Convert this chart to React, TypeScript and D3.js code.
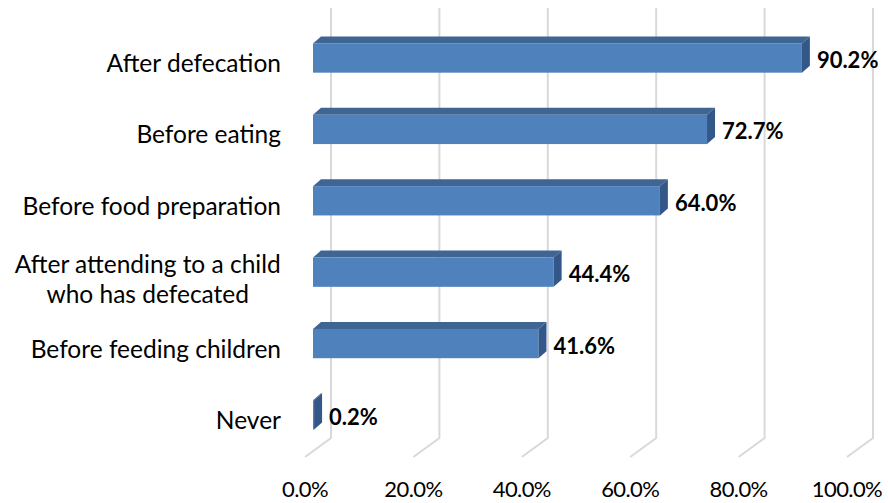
import React from "react";
import * as d3 from "d3";

const categories = [
  "After defecation",
  "Before eating",
  "Before food preparation",
  "After attending to a child\nwho has defecated",
  "Before feeding children",
  "Never",
];
const values = [90.2, 72.7, 64.0, 44.4, 41.6, 0.2];
const ticks = [0, 20, 40, 60, 80, 100];

const W = 888;
const H = 503;
const FONT = "Lato, 'Open Sans', sans-serif";
const CAT_SIZE = 24.5;

function measure(text: string, font: string): number {
  if (typeof document === "undefined") return text.length * 11;
  const c = document.createElement("canvas");
  const ctx = c.getContext("2d");
  if (!ctx) return text.length * 11;
  ctx.font = font;
  return ctx.measureText(text).width;
}

export default function App() {
  const x = d3.scaleLinear().domain([0, 100]).range([313, 855]);
  const y = d3
    .scaleBand<number>()
    .domain(d3.range(categories.length))
    .range([22, 451])
    .paddingInner(0.59)
    .paddingOuter(0.3);
  const wallDx = 18;
  const floorFront = { dx: -8, y: 457 };
  const wallTop = 8;
  const wallBottom = 438;
  const depth = { dx: 8, dy: -7 };
  const labelRight = 281;

  return (
    <svg width={W} height={H} style={{ position: "absolute", left: 0, top: 0 }}>
      <rect width={W} height={H} fill="#fff" />
      {ticks.map((t) => {
        const bx = x(t) + wallDx;
        const fx = x(t) + floorFront.dx;
        return (
          <g key={t}>
            <polyline
              points={`${bx},${wallTop} ${bx},${wallBottom} ${fx},${floorFront.y}`}
              fill="none"
              stroke="#d9d9d9"
              strokeWidth={2}
            />
            <text
              x={fx}
              y={497}
              textAnchor="middle"
              fontFamily={FONT}
              fontSize={22}
              letterSpacing={-0.6}
              fill="#000"
            >
              {t.toFixed(1)}%
            </text>
          </g>
        );
      })}
      {values.map((v, i) => {
        const y0 = y(i)!;
        const h = y.bandwidth();
        const x0 = x(0);
        const x1 = x(v);
        const top = `${x0},${y0} ${x0 + depth.dx},${y0 + depth.dy} ${x1 + depth.dx},${y0 + depth.dy} ${x1},${y0}`;
        const side = `${x1},${y0} ${x1 + depth.dx},${y0 + depth.dy} ${x1 + depth.dx},${y0 + h + depth.dy} ${x1},${y0 + h}`;
        const lines = categories[i].split("\n");
        const cy = y0 + h / 2;
        let labelEl;
        if (lines.length === 1) {
          labelEl = (
            <text x={labelRight} y={cy + 14} textAnchor="end" fontFamily={FONT} fontSize={CAT_SIZE} fill="#000">
              {lines[0]}
            </text>
          );
        } else {
          const maxW = Math.max(...lines.map((l) => measure(l, `${CAT_SIZE}px Lato`)));
          const cx = labelRight - maxW / 2;
          labelEl = (
            <text textAnchor="middle" fontFamily={FONT} fontSize={CAT_SIZE} fill="#000">
              {lines.map((l, k) => (
                <tspan key={k} x={cx} y={cy + 1 + k * 30}>
                  {l}
                </tspan>
              ))}
            </text>
          );
        }
        return (
          <g key={i}>
            <polygon points={top} fill="#3f6593" />
            <rect x={x0} y={y0} width={x1 - x0} height={h} fill="#4f81bd" />
            <polygon points={side} fill="#34578a" />
            <text
              x={x1 + depth.dx + 7}
              y={cy + 10}
              fontFamily={FONT}
              fontWeight="bold"
              fontSize={22}
              fill="#000"
            >
              {v.toFixed(1)}%
            </text>
            {labelEl}
          </g>
        );
      })}
    </svg>
  );
}
